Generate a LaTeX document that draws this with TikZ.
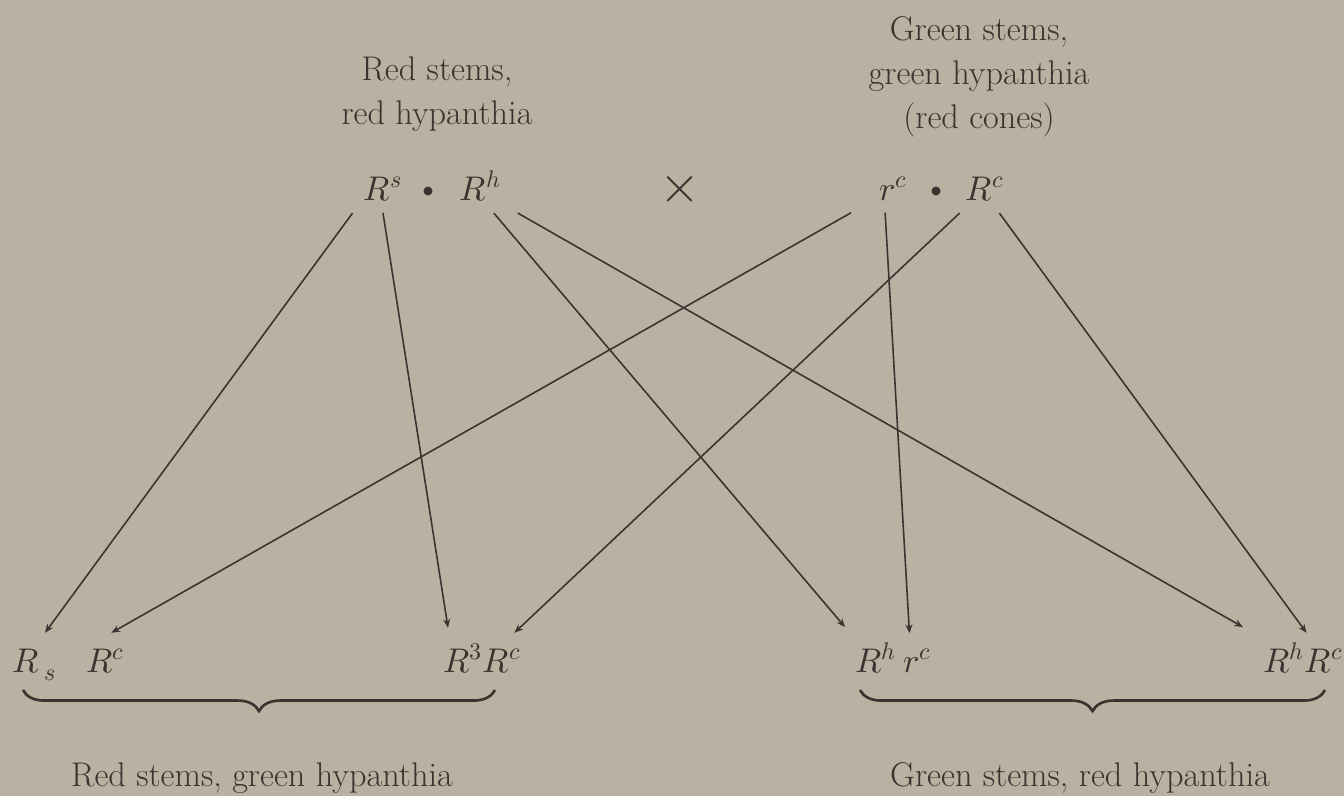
\documentclass[tikz,border=0pt]{standalone}
\usepackage{fontspec}
\usepackage{unicode-math}
\usetikzlibrary{arrows.meta,positioning,calc,decorations.pathreplacing}
\definecolor{paper}{RGB}{186,177,163}
\definecolor{ink}{RGB}{58,51,47}
\tikzset{
  plantxt/.style  ={inner sep=0pt,align=center,font=\fontsize{19.5}{25}\selectfont},
  gamete/.style   ={inner sep=0pt,outer xsep=0pt,outer ysep=7pt,anchor=base,
                    font=\fontsize{19.5}{25}\selectfont},
  offspring/.style={inner sep=0pt,outer xsep=0pt,outer ysep=9pt,anchor=base west,
                    font=\fontsize{19.5}{25}\selectfont},
  joint/.style    ={circle,fill=ink,inner sep=0pt,minimum size=0.18cm},
  arr/.style      ={-{Stealth[length=5pt,width=4pt]},line width=0.9pt,draw=ink},
  brc/.style      ={decorate,decoration={brace,mirror,amplitude=12pt},
                    line width=1.5pt,draw=ink}
}

\begin{document}
\begin{tikzpicture}[x=0.02cm,y=-0.02cm,text=ink]
  \fill[paper] (0,0) rectangle (1344,796);
  \useasboundingbox (0,0) rectangle (1344,796);

  % parents
  \node (redlab)   [plantxt,anchor=north] at (437,56) {Red stems,\\red hypanthia};
  \node (greenlab) [plantxt,anchor=north] at (979,16) {Green stems,\\green hypanthia\\(red cones)};

  \node (t1) [gamete] at (383,200) {$R^{s}$};
  \node (t2) [joint]  at (428,191) {};
  \node (t3) [gamete] at (480,200) {$R^{h}$};
  \node (cross) [inner sep=0pt,font=\fontsize{30}{30}\selectfont] at (680,189) {$\times$};
  \node (t4) [gamete] at (893,200) {$r^{c}$};
  \node (t5) [joint]  at (936,191) {};
  \node (t6) [gamete] at (985,200) {$R^{c}$};

  % offspring
  \node (g1) [offspring] at (12,672)  {$R_{\;s}$};
  \node (g2) [offspring] at (86,672)  {$R^{c}$};
  \node (g3) [offspring] at (443,672) {$R^{3}$};
  \node (g4) [offspring,base right=0pt of g3] {$R^{c}$};
  \node (g5) [offspring] at (855,672) {$R^{h}$};
  \node (g6) [offspring,base right=4pt of g5] {$r^{c}$};
  \node (g7) [offspring] at (1263,672) {$R^{h}$};
  \node (g8) [offspring,base right=0pt of g7] {$R^{c}$};

  \node (redres)   [plantxt,anchor=base] at (262,786)  {Red stems, green hypanthia};
  \node (greenres) [plantxt,anchor=base] at (1080,786) {Green stems, red hypanthia};

  \draw [arr] ($(t1.south west)+(-11,0)$) -- ($(g1.north west)+(33,0)$);
  \draw [arr] (t1.south) -- ($(g3.north west)+(5,0)$);
  \draw [arr] ($(t3.south east)+(-7,0)$) -- ($(g5.north west)+(-10,0)$);
  \draw [arr] ($(t3.south east)+(17,0)$) -- ($(g7.north west)+(-20,0)$);
  \draw [arr] ($(t4.south west)+(-28,0)$) -- ($(g2.north)+(6,0)$);
  \draw [arr] ($(t4.south west)+(6,0)$) -- ($(g6.north)+(-8,0)$);
  \draw [arr] ($(t6.south west)+(-6,0)$) -- ($(g4.north east)+(-7,0)$);
  \draw [arr] ($(t6.south east)+(-5,0)$) -- ($(g8.north west)+(2,0)$);

  % braces
  \draw [brc] (23,690) -- (495,690);
  \draw [brc] (860,690) -- (1325,690);
\end{tikzpicture}
\end{document}
